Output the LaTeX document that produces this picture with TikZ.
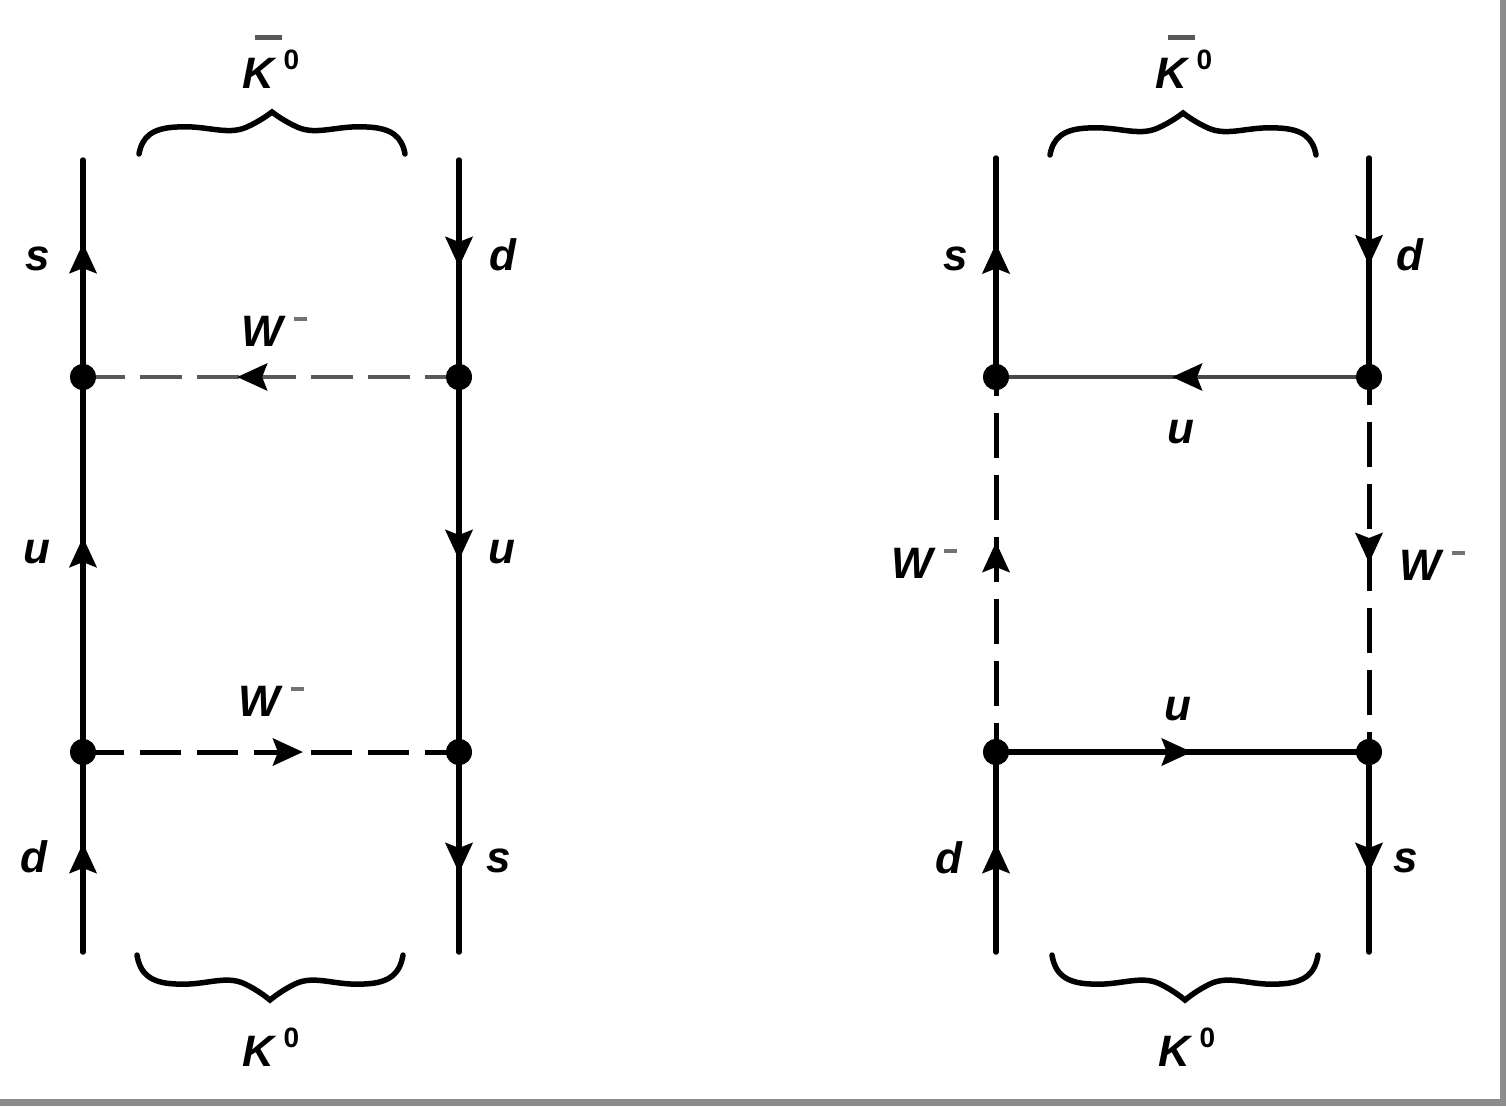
\documentclass[tikz,border=0pt]{standalone}
\usepackage{fontspec}
\setmainfont{Liberation Sans}
\usetikzlibrary{arrows.meta,decorations.markings}
\newcommand{\KO}{K\hspace{0.2em}\raisebox{0.41em}{\fontsize{28}{28}\selectfont\upshape 0}}
\newcommand{\KObar}{\rlap{\hspace{0.27em}\raisebox{1.1em}{\color{black!65}\rule{0.62em}{0.1em}}}\KO}
\newcommand{\Wm}{W\hspace{0.25em}\raisebox{0.57em}{\color{black!55}\rule{0.3em}{0.09em}}}
\tikzset{
  arr/.style={postaction={decorate},decoration={markings,
     mark=at position #1 with {\arrow{Stealth[length=30pt,width=27pt,inset=5pt,color=black]}}}},
  fer/.style={line width=5.5pt,line cap=round,draw=black},
  ferg/.style={line width=4.5pt,draw=black!72},
  bosg/.style={line width=4.5pt,draw=black!65,dash pattern=on 42pt off 15pt,dash phase=8pt},
  bosh/.style={line width=5pt,draw=black,dash pattern=on 41pt off 16pt},
  bosv/.style={line width=5pt,draw=black,dash pattern=on 45pt off 17pt},
  vtx/.style={circle,fill=black,inner sep=0pt,minimum size=26pt},
  lab/.style={font=\fontsize{44}{44}\selectfont\bfseries\itshape,inner sep=0pt,anchor=base},
  brc/.style={line width=5.5pt,line cap=round,draw=black},
  kbrace/.pic={\draw[brc] (-133,42) .. controls (-130,25) and (-120,16) .. (-95,15)
      .. controls (-65,13) and (-45,24) .. (-25,15) .. controls (-12,9) and (-4,3) .. (0,0)
      .. controls (4,3) and (12,9) .. (25,15) .. controls (45,24) and (65,13) .. (95,15)
      .. controls (120,16) and (130,25) .. (133,42);}
}
\begin{document}
\begin{tikzpicture}[x=1pt,y=-1pt]
\useasboundingbox (0,0) rectangle (1506,1106);
\fill[white] (0,0) rectangle (1506,1106);
\fill[black!45] (0,1099) rectangle (1506,1106);
\fill[black!45] (1500,0) rectangle (1506,1106);

% ---------- left diagram ----------
\coordinate (A1) at (83,160);
\coordinate (A2) at (83,952);
\coordinate (B1) at (459,160);
\coordinate (B2) at (459,952);
\node[vtx] (V1) at (83,377) {};
\node[vtx] (V2) at (83,752) {};
\node[vtx] (V3) at (459,377) {};
\node[vtx] (V4) at (459,752) {};

\draw[fer,arr=0.617] (V1.center) -- (A1);
\draw[fer,arr=0.573] (V2.center) -- (V1.center);
\draw[fer,arr=0.545] (A2) -- (V2.center);
\draw[fer,arr=0.493] (B1) -- (V3.center);
\draw[fer,arr=0.488] (V3.center) -- (V4.center);
\draw[fer,arr=0.605] (V4.center) -- (B2);
\draw[bosg,arr=0.59] (V3.center) -- (V1.center);
\draw[bosh,arr=0.585] (V2.center) -- (V4.center);
\node[vtx] at (V1) {};
\node[vtx] at (V2) {};
\node[vtx] at (V3) {};
\node[vtx] at (V4) {};

\pic at (272,112) {kbrace};
\pic[yscale=-1.07] at (270,1000) {kbrace};

\node[lab] (kt1) at (271,88) {\KObar};
\node[lab] (kb1) at (271,1066) {\KO};
\node[lab] (ls1) at (38,270) {s};
\node[lab] (ld1) at (503,270) {d};
\node[lab] (lw1) at (274,346) {\Wm};
\node[lab] (lu1) at (37,563) {u};
\node[lab] (lu2) at (502,563) {u};
\node[lab] (lw2) at (271,716) {\Wm};
\node[lab] (ld2) at (34,872) {d};
\node[lab] (ls2) at (499,872) {s};

% ---------- right diagram ----------
\coordinate (C1) at (996,158);
\coordinate (C2) at (996,952);
\coordinate (D1) at (1369,158);
\coordinate (D2) at (1369,952);
\node[vtx] (U1) at (996,377) {};
\node[vtx] (U2) at (996,752) {};
\node[vtx] (U3) at (1369,377) {};
\node[vtx] (U4) at (1369,752) {};

\draw[fer,arr=0.61] (U1.center) -- (C1);
\draw[fer,arr=0.545] (C2) -- (U2.center);
\draw[fer,arr=0.49] (D1) -- (U3.center);
\draw[fer,arr=0.605] (U4.center) -- (D2);
\draw[ferg,arr=0.528] (U3.center) -- (U1.center);
\draw[fer,line cap=butt,arr=0.525] (U2.center) -- (U4.center);
\draw[bosv,dash phase=16pt,arr=0.56] (U2.center) -- (U1.center);
\draw[bosv,dash phase=17pt,arr=0.496] (U3.center) -- (U4.center);
\node[vtx] at (U1) {};
\node[vtx] at (U2) {};
\node[vtx] at (U3) {};
\node[vtx] at (U4) {};

\pic at (1183,113) {kbrace};
\pic[yscale=-1.07] at (1185,1000) {kbrace};

\node[lab] (kt2) at (1184,88) {\KObar};
\node[lab] (kb2) at (1187,1066) {\KO};
\node[lab] (rs1) at (956,270) {s};
\node[lab] (rd1) at (1410,270) {d};
\node[lab] (ru1) at (1181,443) {u};
\node[lab] (rw1) at (924,578) {\Wm};
\node[lab] (rw2) at (1432,580) {\Wm};
\node[lab] (ru2) at (1178,720) {u};
\node[lab] (rd2) at (949,873) {d};
\node[lab] (rs2) at (1406,872) {s};
\end{tikzpicture}
\end{document}
